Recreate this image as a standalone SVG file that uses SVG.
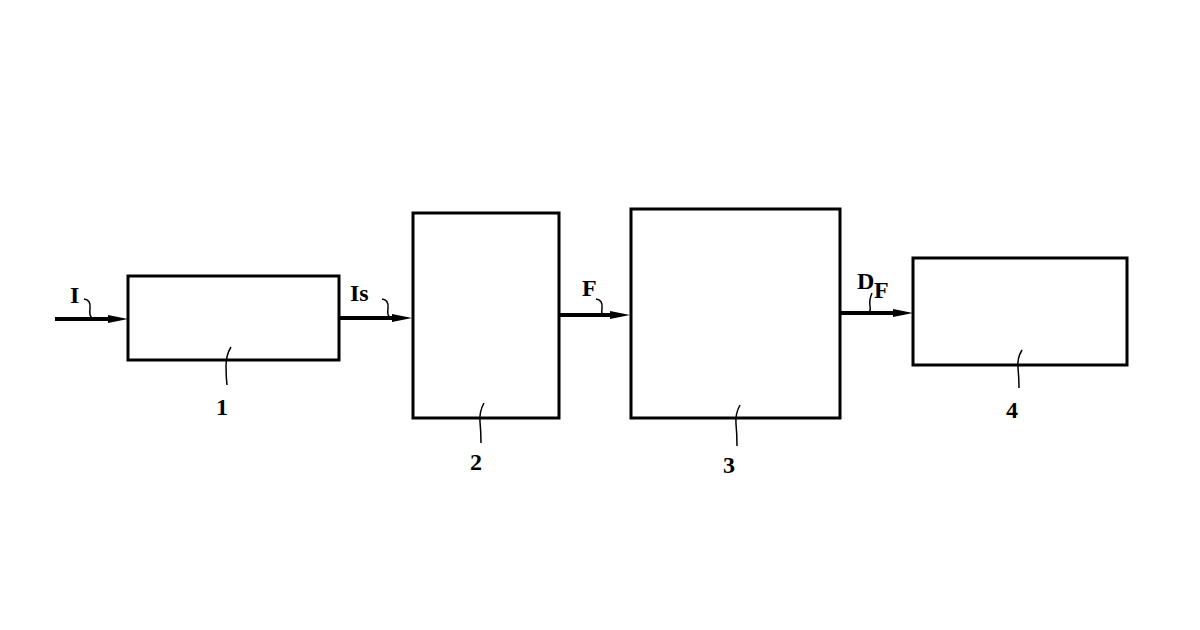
<svg xmlns="http://www.w3.org/2000/svg" width="1200" height="630" viewBox="0 0 1200 630">
<style>
.box{fill:#fff;stroke:#000;stroke-width:3}
.ln{stroke:#000;stroke-width:4;fill:none}
.ld{stroke:#000;stroke-width:1.5;fill:none}
text{font-family:"Liberation Serif",serif;font-weight:bold;font-size:24px;fill:#000}
</style>
<defs><marker id="a" markerWidth="8" markerHeight="6" refX="8" refY="3" orient="auto" markerUnits="userSpaceOnUse" viewBox="0 0 8 6"><path d="M0,0L8,3L0,6Z"/></marker>
<marker id="ah" markerWidth="18" markerHeight="8" refX="18" refY="4" orient="auto" markerUnits="userSpaceOnUse" viewBox="0 0 18 8"><path d="M0,1L18,4L0,7Z"/></marker></defs>
<rect width="1200" height="630" fill="#fff"/>
<g id="connectors">
<path class="ln" d="M55,319H112" /><path d="M108,315L128,319L108,323Z"/>
<path class="ln" d="M340,318H396"/><path d="M392,314L412,318L392,322Z"/>
<path class="ln" d="M559,315H614"/><path d="M610,311L630,315L610,319Z"/>
<path class="ln" d="M840,313H897"/><path d="M893,309L913,313L893,317Z"/>
<path class="ld" d="M84,299Q91,300 90,308T92,318"/>
<path class="ld" d="M382,299Q389,300 388,308T390,317"/>
<path class="ld" d="M596,299Q603,300 602,308T604,315"/>
<path class="ld" d="M872,293Q869,300 870,306T868,312"/>
</g>
<g id="n1"><rect class="box" x="128" y="276" width="211" height="84"/><path class="ld" d="M231,347Q226,355 226,366T227,385"/><text x="216" y="415">1</text></g>
<g id="n2"><rect class="box" x="413" y="213" width="146" height="205"/><path class="ld" d="M484,403Q479,412 480,422T481,443"/><text x="470" y="470">2</text></g>
<g id="n3"><rect class="box" x="631" y="209" width="209" height="209"/><path class="ld" d="M740,405Q735,414 736,424T737,446"/><text x="723" y="473">3</text></g>
<g id="n4"><rect class="box" x="913" y="258" width="214" height="107"/><path class="ld" d="M1022,350Q1017,358 1018,368T1019,388"/><text x="1006" y="418">4</text></g>
<g id="labels">
<text x="70" y="303">I</text>
<text x="350" y="301">Is</text>
<text x="582" y="296">F</text>
<text x="857" y="289">D</text><text x="874" y="298">F</text>
</g>
</svg>
